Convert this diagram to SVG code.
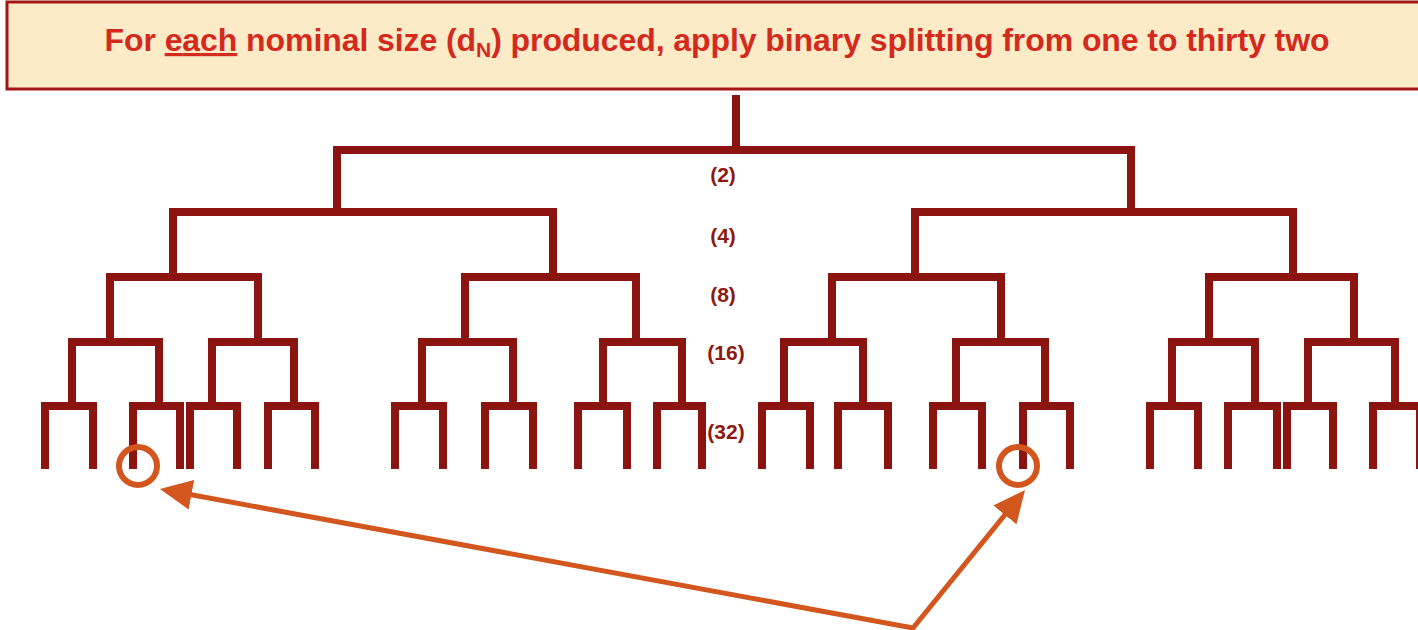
<svg xmlns="http://www.w3.org/2000/svg" width="1418" height="630" viewBox="0 0 1418 630">
<defs>
<style>
.br{fill:none;stroke:#8C1410;stroke-width:8;stroke-linejoin:miter;stroke-linecap:butt}
.lbl{font-family:"Liberation Sans",Arial,sans-serif;font-weight:bold;font-size:21px;fill:#8C1A12;text-anchor:middle}
.hl{fill:none;stroke:#D2561E;stroke-width:6}
.arr{fill:none;stroke:#D2561E;stroke-width:5;stroke-linejoin:miter}
</style>
<marker id="ah" markerUnits="userSpaceOnUse" markerWidth="32" markerHeight="30" viewBox="0 0 32 30" refX="22" refY="15" orient="auto-start-reverse">
<path d="M0 0 L32 15 L0 30 Z" fill="#D2561E"/>
</marker>
</defs>
<rect width="1418" height="630" fill="#FFFFFF"/>
<g id="header">
<rect x="7" y="2" width="1420" height="87" fill="#FDEBC8" stroke="#A31515" stroke-width="3"/>
<text x="717" y="51" font-family="'Liberation Sans', Arial, sans-serif" font-weight="bold" font-size="32" fill="#D42A1E" text-anchor="middle" textLength="1225" lengthAdjust="spacing">For <tspan text-decoration="underline">each</tspan> nominal size (d<tspan font-size="21" dy="6">N</tspan><tspan dy="-6">) produced, apply binary splitting from one to thirty two</tspan></text>
</g>
<g id="tree">
<g id="root"><path class="br" d="M736 95 V150"/></g>
<g id="level2"><path class="br" d="M337 212 V150 H1131 V212"/></g>
<g id="level4">
<path class="br" d="M173 277 V212 H553 V277"/>
<path class="br" d="M915 277 V212 H1293 V277"/>
</g>
<g id="level8">
<path class="br" d="M110 342 V277 H258 V342"/>
<path class="br" d="M465 342 V277 H636 V342"/>
<path class="br" d="M832 342 V277 H1001 V342"/>
<path class="br" d="M1209 342 V277 H1354 V342"/>
</g>
<g id="level16">
<path class="br" d="M72 406 V342 H159 V406"/>
<path class="br" d="M212 406 V342 H294 V406"/>
<path class="br" d="M422 406 V342 H513 V406"/>
<path class="br" d="M603 406 V342 H682 V406"/>
<path class="br" d="M784 406 V342 H863 V406"/>
<path class="br" d="M956 406 V342 H1045 V406"/>
<path class="br" d="M1172 406 V342 H1255 V406"/>
<path class="br" d="M1308 406 V342 H1395 V406"/>
</g>
<g id="level32">
<path class="br" d="M45 469 V406 H93 V469"/>
<path class="br" d="M133 469 V406 H180 V469"/>
<path class="br" d="M190 469 V406 H237 V469"/>
<path class="br" d="M268 469 V406 H315 V469"/>
<path class="br" d="M395 469 V406 H443 V469"/>
<path class="br" d="M485 469 V406 H533 V469"/>
<path class="br" d="M578 469 V406 H627 V469"/>
<path class="br" d="M657 469 V406 H702 V469"/>
<path class="br" d="M762 469 V406 H810 V469"/>
<path class="br" d="M838 469 V406 H888 V469"/>
<path class="br" d="M933 469 V406 H982 V469"/>
<path class="br" d="M1023 469 V406 H1070 V469"/>
<path class="br" d="M1150 469 V406 H1198 V469"/>
<path class="br" d="M1228 469 V406 H1277 V469"/>
<path class="br" d="M1287 469 V406 H1333 V469"/>
<path class="br" d="M1373 469 V406 H1420 V469"/>
</g>
</g>
<g id="labels">
<text class="lbl" x="723" y="182">(2)</text>
<text class="lbl" x="723" y="243">(4)</text>
<text class="lbl" x="723" y="302">(8)</text>
<text class="lbl" x="726" y="360">(16)</text>
<text class="lbl" x="726" y="439">(32)</text>
</g>
<g id="highlight-left"><circle class="hl" cx="138" cy="466" r="19"/></g>
<g id="highlight-right"><circle class="hl" cx="1018" cy="466" r="19"/></g>
<g id="connectors">
<path class="arr" d="M169.8 490.8 L913 628 L1018.7 497.8" marker-start="url(#ah)" marker-end="url(#ah)"/>
</g>
</svg>
